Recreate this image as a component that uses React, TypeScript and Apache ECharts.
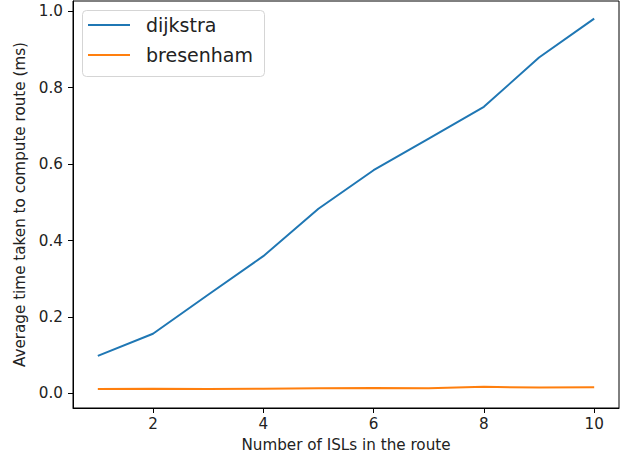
import React, { useEffect, useRef } from "react";
import * as echarts from "echarts";

const routeLengths = [1, 2, 3, 4, 5, 6, 7, 8, 9, 10];
const dijkstraMs = [0.098, 0.156, 0.258, 0.359, 0.483, 0.584, 0.667, 0.75, 0.879, 0.981];
const bresenhamMs = [0.011, 0.012, 0.011, 0.012, 0.013, 0.014, 0.013, 0.017, 0.015, 0.016];
const xTicks = [2, 4, 6, 8, 10];
const yTicks = [0, 0.2, 0.4, 0.6, 0.8, 1.0];

const FONT = "DejaVu Sans";
const FS = 15.2;

export default function App() {
  const ref = useRef<HTMLDivElement>(null);
  useEffect(() => {
    if (!ref.current) return;
    const chart = echarts.init(ref.current, null, { renderer: "svg" });
    const toPairs = (ys: number[]) => routeLengths.map((x, i) => [x, ys[i]]);
    chart.setOption({
      animation: false,
      backgroundColor: "#fff",
      textStyle: { fontFamily: FONT },
      grid: {
        left: 73,
        top: 1,
        width: 546,
        height: 407,
        show: true,
        borderColor: "#000",
        borderWidth: 1,
        backgroundColor: "transparent",
      },
      legend: {
        left: 88,
        top: 15,
        orient: "vertical",
        padding: 0,
        itemWidth: 42,
        itemHeight: 2,
        itemGap: 10,
        icon: "rect",
        textStyle: {
          fontFamily: FONT,
          fontSize: 19,
          lineHeight: 20,
          color: "#222",
          padding: [0, 0, 0, 11],
        },
        data: ["dijkstra", "bresenham"],
      },
      graphic: [
        {
          type: "rect",
          left: 82,
          top: 10,
          shape: { width: 182, height: 66, r: 4 },
          style: { fill: "rgba(255,255,255,0.8)", stroke: "#d5d5d5", lineWidth: 1 },
          z: -1,
        },
      ],
      xAxis: {
        type: "value",
        min: 0.55,
        max: 10.45,
        name: "Number of ISLs in the route",
        nameLocation: "middle",
        nameGap: 29,
        nameTextStyle: { fontFamily: FONT, fontSize: FS, color: "#222" },
        axisLine: { show: true, onZero: false, lineStyle: { color: "#000", width: 1 } },
        axisTick: { show: true, length: 5, lineStyle: { color: "#000" }, customValues: xTicks },
        axisLabel: {
          fontFamily: FONT,
          fontSize: FS,
          color: "#222",
          margin: 8,
          customValues: xTicks,
        },
        splitLine: { show: false },
      },
      yAxis: {
        type: "value",
        min: -0.0385,
        max: 1.027,
        name: "Average time taken to compute route (ms)",
        nameLocation: "middle",
        nameGap: 44,
        nameTextStyle: { fontFamily: FONT, fontSize: FS, color: "#222" },
        axisLine: { show: true, onZero: false, lineStyle: { color: "#000", width: 1 } },
        axisTick: { show: true, length: 5, lineStyle: { color: "#000" }, customValues: yTicks },
        axisLabel: {
          fontFamily: FONT,
          fontSize: FS,
          color: "#222",
          margin: 10,
          customValues: yTicks,
          formatter: (v: number) => v.toFixed(1),
        },
        splitLine: { show: false },
      },
      series: [
        {
          name: "dijkstra",
          type: "line",
          data: toPairs(dijkstraMs),
          symbol: "none",
          color: "#1f77b4",
          lineStyle: { width: 2, color: "#1f77b4" },
        },
        {
          name: "bresenham",
          type: "line",
          data: toPairs(bresenhamMs),
          symbol: "none",
          color: "#ff7f0e",
          lineStyle: { width: 2, color: "#ff7f0e" },
        },
      ],
    });
    return () => chart.dispose();
  }, []);
  return (
    <div
      ref={ref}
      style={{ position: "fixed", left: 0, top: 0, width: 626, height: 459 }}
    />
  );
}
